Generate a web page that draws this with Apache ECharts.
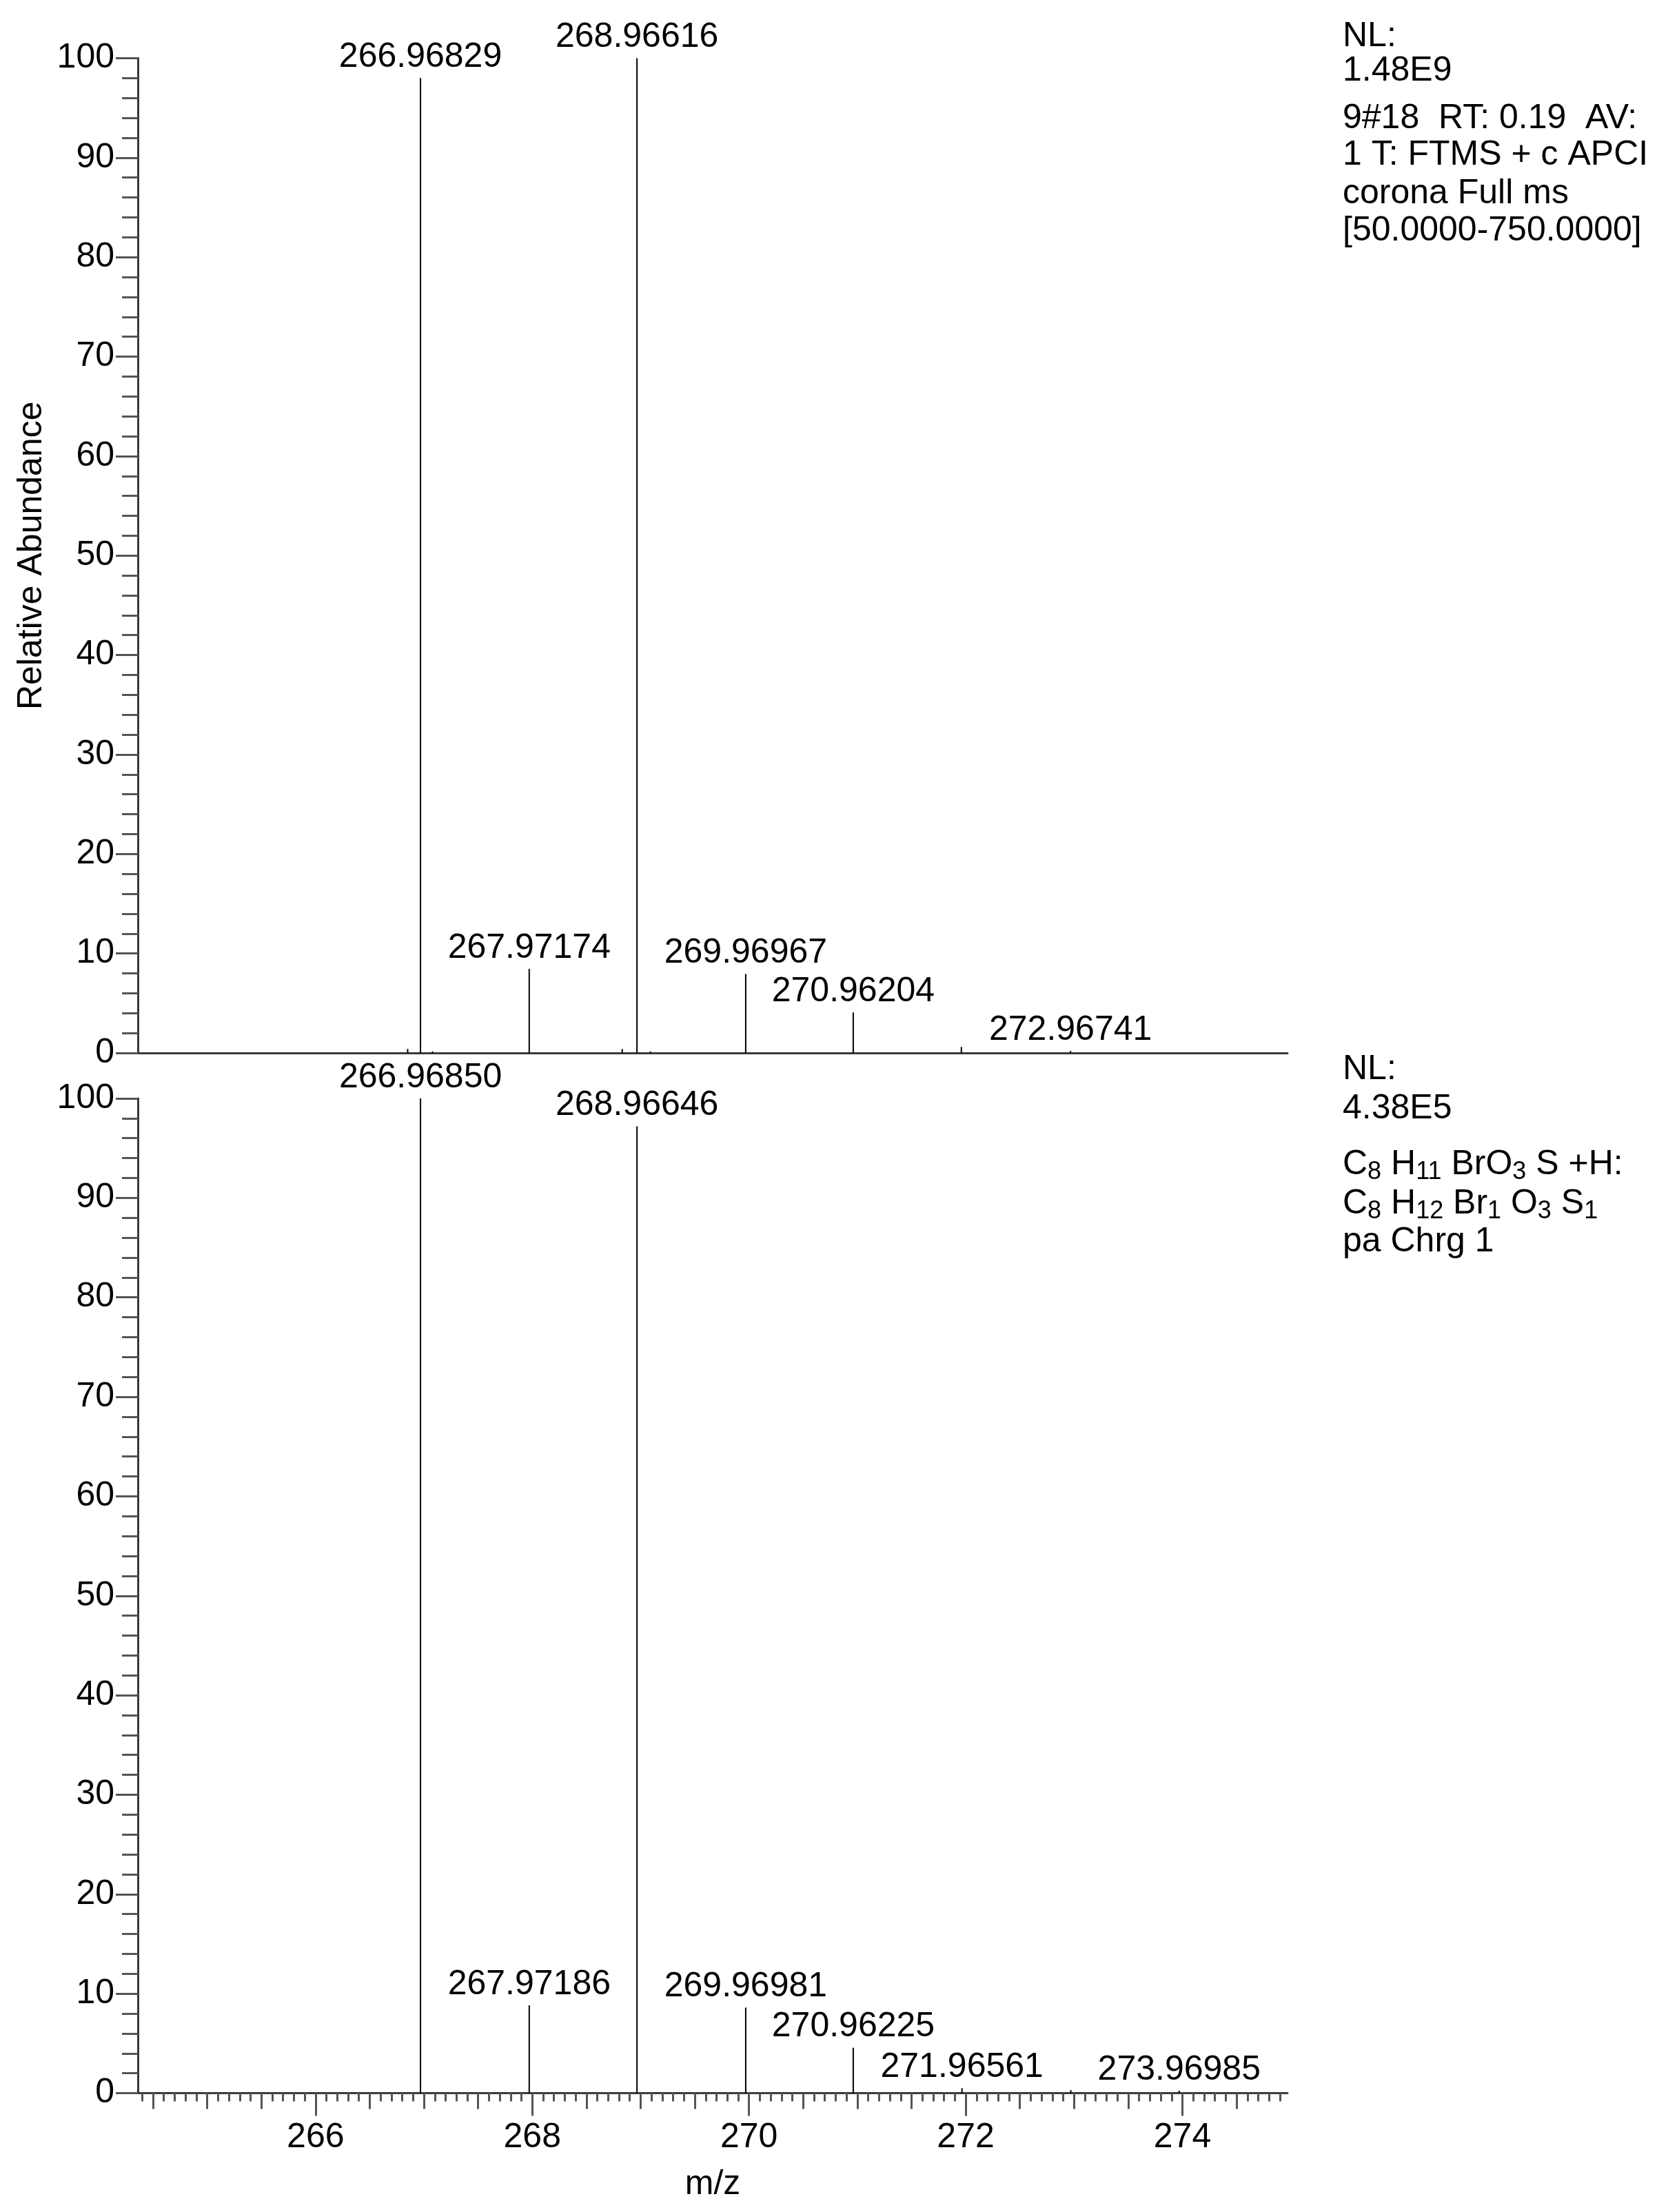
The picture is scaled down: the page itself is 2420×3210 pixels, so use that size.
<!DOCTYPE html>
<html>
<head>
<meta charset="utf-8">
<script src="https://cdn.jsdelivr.net/npm/echarts@6/dist/echarts.min.js"></script>
<style>
html,body{margin:0;padding:0;background:#fff;}
#spectrum{width:2420px;height:3210px;}
</style>
</head>
<body>
<div id="spectrum"></div>
<script>
// 上图：实测谱 (m/z, 相对丰度)
const topMz = [266.85, 266.96829, 267.08, 267.97174, 268.83, 268.96616, 269.09, 269.96967, 270.96204, 271.96, 272.96741]
const topAbund = [0.4, 98.0, 0.15, 8.45, 0.4, 100, 0.15, 7.94, 4.07, 0.6, 0.2]
const topLabeled = [266.96829, 267.97174, 268.96616, 269.96967, 270.96204, 272.96741]

// 下图：理论同位素分布
const botMz = [266.96850, 267.97186, 268.96646, 269.96981, 270.96225, 271.96561, 272.97, 273.96985]
const botAbund = [100, 8.83, 97.2, 8.6, 4.56, 0.5, 0.3, 0.25]
const botLabeled = [266.96850, 267.97186, 268.96646, 269.96981, 270.96225, 271.96561, 273.96985]

// 坐标轴
const xMin = 264.36
const xMax = 274.97
const xLabels = [266, 268, 270, 272, 274]
const yLabels = [0, 10, 20, 30, 40, 50, 60, 70, 80, 90, 100]

const topInfo = ['NL:', '1.48E9', '9#18  RT: 0.19  AV:', '1 T: FTMS + c APCI', 'corona Full ms', '[50.0000-750.0000]']
const botInfo = ['NL:', '4.38E5']

const FONT = 'Liberation Sans'
const AXIS_COLOR = '#3a3a3a'
const TICK_COLOR = '#555'

function steps(a, b, s) {
    let out = []
    for (let v = a; v <= b + 1e-9; v += s) out.push(Math.round(v * 10) / 10)
    return out
}

function peaks(mz, ab, labeled) {
    return mz.map((m, i) => ({
        value: [m, ab[i]],
        label: { show: labeled.indexOf(m) >= 0 }
    }))
}

let mycharts = echarts.init(document.getElementById('spectrum'))

const gridL = 200, gridR = 2420 - 1868, gridH = 1443.5

function yAxis(idx, name) {
    return {
        type: 'value', gridIndex: idx, min: 0, max: 100, interval: 10,
        name: name, nameLocation: 'middle', nameGap: 128,
        nameTextStyle: { fontFamily: FONT, fontSize: 50, color: '#000' },
        axisLine: { show: true, lineStyle: { color: AXIS_COLOR, width: 3 } },
        axisTick: { show: true, length: 32, lineStyle: { color: TICK_COLOR, width: 3 } },
        minorTick: { show: true, splitNumber: 5, length: 23, lineStyle: { color: TICK_COLOR, width: 3 } },
        axisLabel: { fontFamily: FONT, fontSize: 50, color: '#000', margin: 34,
            customValues: yLabels },
        splitLine: { show: false }
    }
}

function xAxis(idx, ticks, len, withLabels, lineShow) {
    return {
        type: 'value', gridIndex: idx, min: xMin, max: xMax,
        position: 'bottom', offset: 0,
        axisLine: { show: lineShow, onZero: false, lineStyle: { color: AXIS_COLOR, width: 3 } },
        axisTick: { show: ticks.length > 0, length: len, customValues: ticks,
            lineStyle: { color: TICK_COLOR, width: 3 } },
        axisLabel: withLabels
            ? { show: true, customValues: xLabels, fontFamily: FONT, fontSize: 50, color: '#000', margin: 40 }
            : { show: false },
        splitLine: { show: false },
        name: withLabels ? 'm/z' : '',
        nameLocation: 'middle', nameGap: 108,
        nameTextStyle: { fontFamily: FONT, fontSize: 50, color: '#000' }
    }
}

function peakSeries(xi, yi, data) {
    return {
        type: 'bar', xAxisIndex: xi, yAxisIndex: yi, barWidth: 2,
        data: data,
        itemStyle: { color: '#000' },
        label: {
            position: 'top', distance: 5,
            fontFamily: FONT, fontSize: 50, color: '#000',
            formatter: p => p.value[0].toFixed(5)
        },
        silent: true
    }
}

// 右侧说明文字
let graphics = []
const topY = [56, 106, 175, 228, 284, 338]
topInfo.forEach((t, i) => graphics.push({
    type: 'text', left: 1948, top: topY[i] - 28,
    style: { text: t, font: '50px ' + FONT, fill: '#000' }
}))
const botY = [1555, 1612]
botInfo.forEach((t, i) => graphics.push({
    type: 'text', left: 1948, top: botY[i] - 28,
    style: { text: t, font: '50px ' + FONT, fill: '#000' }
}))
const sub = { fontFamily: FONT, fontSize: 36, padding: [22, 0, 0, 0], fill: '#000' }
const formulaLines = [
    'C{s|8} H{s|11} BrO{s|3} S +H:',
    'C{s|8} H{s|12} Br{s|1} O{s|3} S{s|1}',
    'pa Chrg 1'
]
const formulaY = [1693, 1750, 1805]
formulaLines.forEach((t, i) => graphics.push({
    type: 'text', left: 1948, top: formulaY[i] - 28,
    style: { text: t, fontFamily: FONT, fontSize: 50, fill: '#000',
        rich: { s: sub } }
}))

let options = {
    animation: false,
    backgroundColor: '#fff',
    grid: [
        { left: gridL, right: gridR, top: 84.5, height: gridH },
        { left: gridL, right: gridR, top: 1594, height: gridH }
    ],
    xAxis: [
        xAxis(0, [], 0, false, true),
        xAxis(1, steps(264.4, 274.9, 0.1), 12, false, true),  // 0.1 小刻度
        xAxis(1, steps(264.5, 274.5, 0.5), 23, false, false), // 0.5 中刻度
        xAxis(1, xLabels, 33, true, false)                    // 主刻度 + 标签
    ],
    yAxis: [yAxis(0, 'Relative Abundance'), yAxis(1, '')],
    series: [
        peakSeries(0, 0, peaks(topMz, topAbund, topLabeled)),
        peakSeries(1, 1, peaks(botMz, botAbund, botLabeled))
    ],
    graphic: graphics
}
mycharts.setOption(options, true)
</script>
</body>
</html>
